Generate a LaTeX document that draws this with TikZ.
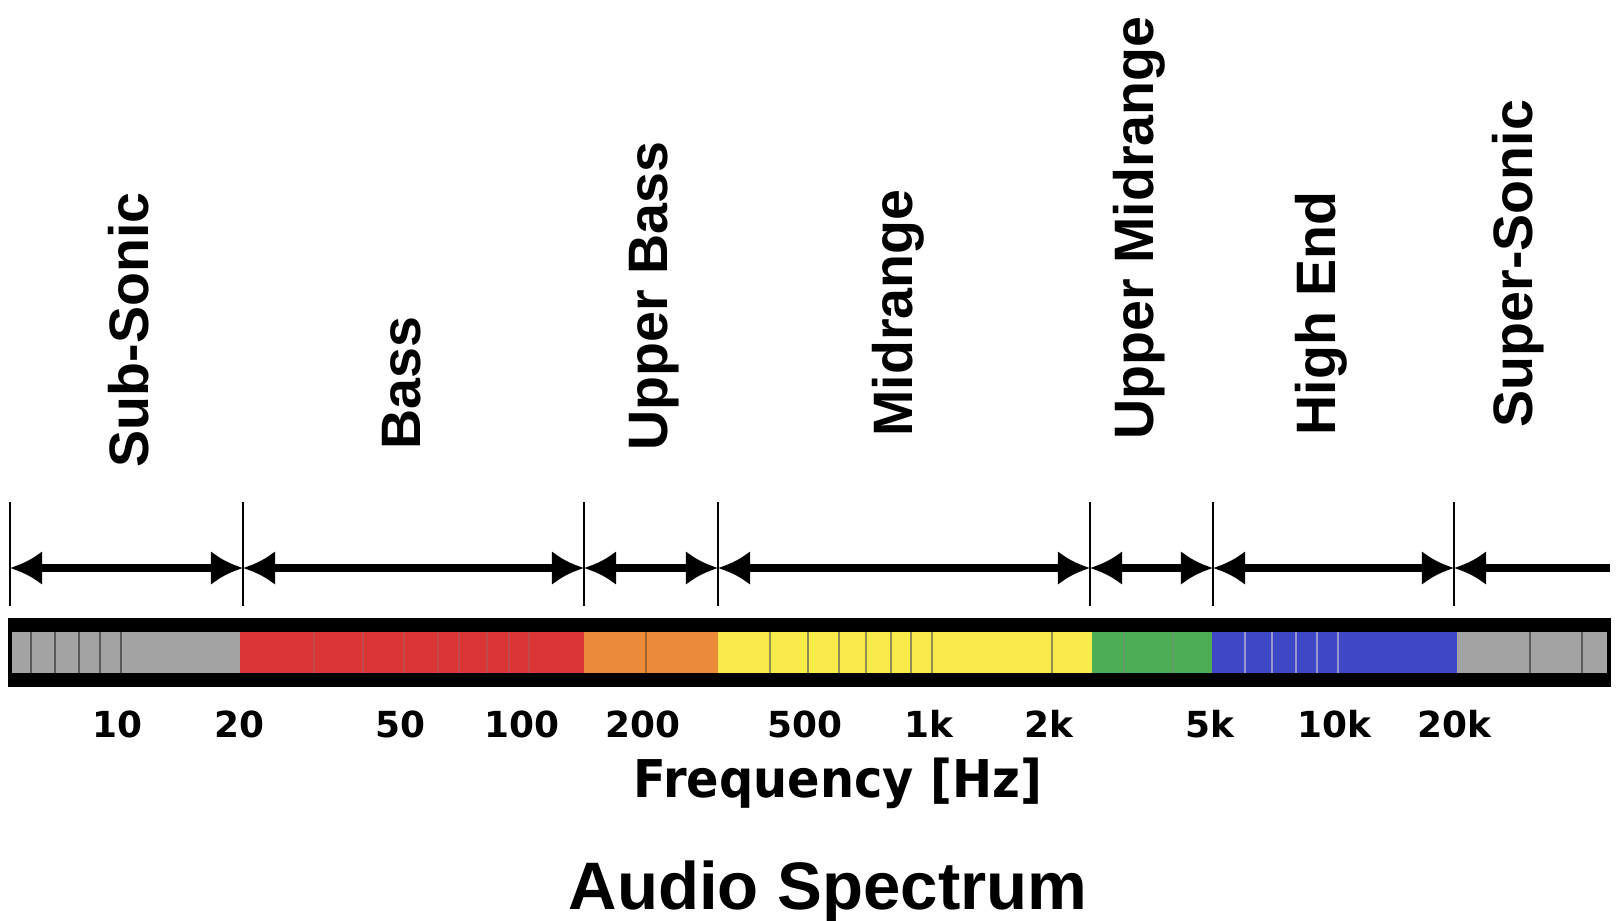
\documentclass[tikz,border=0pt]{standalone}
\usepackage{fontspec}
\setmainfont{Liberation Sans}
\newfontfamily\tickfont{DejaVu Sans}
\newfontfamily\axisfont{DejaVu Sans}[FakeStretch=0.92]
\usetikzlibrary{arrows.meta, calc}
\definecolor{cgray}{HTML}{A3A3A3}
\definecolor{cred}{HTML}{DC3535}
\definecolor{corange}{HTML}{EC8A3C}
\definecolor{cyellow}{HTML}{F9EC4A}
\definecolor{cgreen}{HTML}{4CAD55}
\definecolor{cblue}{HTML}{3F47C6}
\tikzset{bandarrow/.style={line width=2.3pt,{Latex[length=0.32cm,width=0.34cm]}-{Latex[length=0.32cm,width=0.34cm]}}}
\tikzset{lastarrow/.style={line width=2.3pt,{Latex[length=0.32cm,width=0.34cm]}-}}
\tikzset{tickline/.style={line width=0.7pt}}
\tikzset{sep/.style={line width=0.6pt}}
\tikzset{bandname/.style={rotate=90,anchor=base west,inner sep=0pt,font=\fontsize{15.8}{18}\selectfont\bfseries}}
\tikzset{freqlabel/.style={anchor=base,inner sep=0pt,font=\tickfont\fontsize{10.2}{12}\selectfont\bfseries}}

\begin{document}
\begin{tikzpicture}[x=0.01cm,y=-0.01cm]
  \useasboundingbox (0,0) rectangle (1623,920);

  % band borders
  \foreach \n/\x in {1/10,2/243,3/584,4/718,5/1090,6/1213,7/1454}{
    \coordinate (t\n) at (\x,568);
    \draw[tickline] (\x,502) -- (\x,606);
  }
  \coordinate (tend) at (1610,568);

  \draw[bandarrow] (t1) -- (t2);
  \draw[bandarrow] (t2) -- (t3);
  \draw[bandarrow] (t3) -- (t4);
  \draw[bandarrow] (t4) -- (t5);
  \draw[bandarrow] (t5) -- (t6);
  \draw[bandarrow] (t6) -- (t7);
  \draw[lastarrow] (t7) -- (tend);

  % band names
  \node[bandname] (subsonic) at (148,468) {Sub-Sonic};
  \node[bandname] (bass) at (420,450) {Bass};
  \node[bandname] (upperbass) at (667,451) {Upper Bass};
  \node[bandname] (midrange) at (912,437) {Midrange};
  \node[bandname] (uppermid) at (1153,440) {Upper Midrange};
  \node[bandname] (highend) at (1335,436) {High End};
  \node[bandname] (supersonic) at (1532,428) {Super-Sonic};

  % the colour bar
  \fill[black] (8,618) rectangle (1611,687);
  \fill[cgray] (12,632) rectangle (240,673);
  \fill[cred] (240,632) rectangle (584,673);
  \fill[corange] (584,632) rectangle (718,673);
  \fill[cyellow] (718,632) rectangle (1092,673);
  \fill[cgreen] (1092,632) rectangle (1212,673);
  \fill[cblue] (1212,632) rectangle (1457,673);
  \fill[cgray] (1457,632) rectangle (1607,673);

  \foreach \x in {31,55,79,100,121,1530,1582}
    \draw[sep,cgray!55!black] (\x,632) -- (\x,673);
  \foreach \x in {314,363,404,438,459,487,509,529}
    \draw[sep,cred!70!gray] (\x,632) -- (\x,673);
  \draw[sep,corange!70!black] (646,632) -- (646,673);
  \foreach \x in {770,808,839,866,891,911,932,1052}
    \draw[sep,cyellow!45!gray!80!black] (\x,632) -- (\x,673);
  \foreach \x in {1124,1173}
    \draw[sep,cgreen!60!gray] (\x,632) -- (\x,673);
  \foreach \x in {1245,1272,1296,1317,1338}
    \draw[sep,cblue!55!white!85!gray] (\x,632) -- (\x,673);

  % frequencies
  \node[freqlabel] (f10) at (117,737) {10};
  \node[freqlabel] (f20) at (239,737) {20};
  \node[freqlabel] (f50) at (400,737) {50};
  \node[freqlabel] (f100) at (522,737) {100};
  \node[freqlabel] (f200) at (643,737) {200};
  \node[freqlabel] (f500) at (805,737) {500};
  \node[freqlabel] (f1k) at (929,737) {1k};
  \node[freqlabel] (f2k) at (1049,737) {2k};
  \node[freqlabel] (f5k) at (1210,737) {5k};
  \node[freqlabel] (f10k) at (1334,737) {10k};
  \node[freqlabel] (f20k) at (1454,737) {20k};

  \node[anchor=base,inner sep=0pt,font=\axisfont\fontsize{14.8}{17}\selectfont\bfseries] (axis) at (838,797) {Frequency [Hz]};
  \node[anchor=base,inner sep=0pt,font=\fontsize{19.1}{22}\selectfont\bfseries] (title) at (828,909) {Audio Spectrum};
\end{tikzpicture}
\end{document}
